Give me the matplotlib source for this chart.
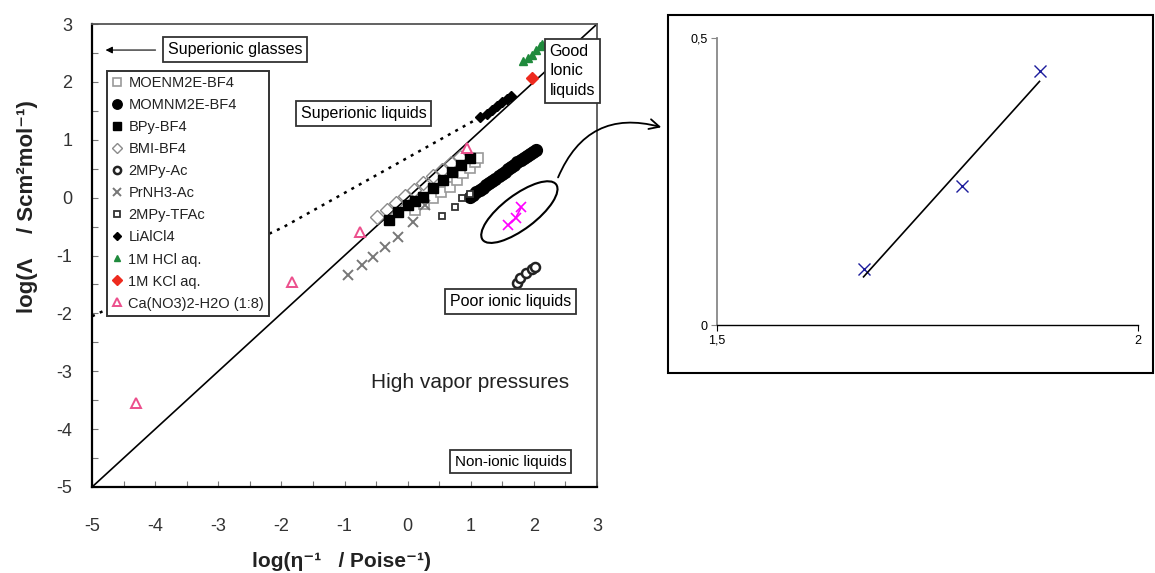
import numpy as np
import matplotlib
matplotlib.use('Agg')
import matplotlib.pyplot as plt
from matplotlib.patches import Ellipse
from matplotlib.transforms import IdentityTransform

plt.rcParams['font.family'] = ['Liberation Sans', 'DejaVu Sans']

# --- main Walden plot data ---
ideal_x = [-5, 3]
ideal_y = [-5, 3]

glass_x = [-5.0, -1.97, 1.15]
glass_y = [-2.05, -0.51, 1.39]

moenm_x = [0.12, 0.26, 0.40, 0.53, 0.67, 0.78, 0.88, 0.98, 1.06, 1.12]
moenm_y = [-0.21, -0.11, 0.00, 0.09, 0.18, 0.31, 0.43, 0.52, 0.61, 0.69]

momnm_x = [0.99, 1.04, 1.09, 1.14, 1.19, 1.24, 1.29, 1.34, 1.39, 1.44, 1.49,
           1.54, 1.59, 1.64, 1.69, 1.74, 1.79, 1.84, 1.89, 1.94, 1.99, 2.04]
momnm_y = [0.01, 0.05, 0.09, 0.13, 0.17, 0.21, 0.25, 0.29, 0.33, 0.37, 0.41,
           0.45, 0.49, 0.53, 0.57, 0.61, 0.65, 0.68, 0.72, 0.75, 0.79, 0.82]

bpy_x = [-0.30, -0.15, 0.00, 0.12, 0.25, 0.40, 0.56, 0.70, 0.85, 0.99]
bpy_y = [-0.38, -0.25, -0.12, -0.05, 0.01, 0.17, 0.31, 0.45, 0.57, 0.69]

bmi_x = [-0.48, -0.33, -0.18, -0.04, 0.10, 0.25, 0.40, 0.55, 0.69, 0.83]
bmi_y = [-0.33, -0.21, -0.09, 0.02, 0.13, 0.25, 0.37, 0.48, 0.59, 0.70]

mpyac_x = [1.74, 1.78, 1.88, 1.97, 2.02]
mpyac_y = [-1.47, -1.39, -1.30, -1.23, -1.20]

prnh3_x = [-0.94, -0.72, -0.55, -0.36, -0.15, 0.09, 0.28]
prnh3_y = [-1.34, -1.16, -1.02, -0.85, -0.68, -0.42, -0.13]

tfac_x = [0.55, 0.75, 0.86, 0.99]
tfac_y = [-0.32, -0.16, 0.00, 0.06]

lial_x = [1.15, 1.25, 1.33, 1.42, 1.50, 1.58, 1.63]
lial_y = [1.39, 1.45, 1.52, 1.58, 1.65, 1.71, 1.75]

hcl_x = [1.83, 1.90, 1.97, 2.03, 2.10, 2.13]
hcl_y = [2.36, 2.42, 2.47, 2.55, 2.62, 2.66]

kcl_x = [1.97]
kcl_y = [2.07]

ca_x = [-4.30, -1.83, -0.75, 0.94]
ca_y = [-3.55, -1.46, -0.59, 0.86]

new_x = [1.59, 1.71, 1.80]
new_y = [-0.48, -0.35, -0.17]

# --- inset data ---
ins_x = [1.674, 1.791, 1.883]
ins_y = [0.098, 0.242, 0.442]

fig = plt.figure(figsize=(11.55, 5.73), dpi=100)
ax = fig.add_axes([0.0797, 0.1501, 0.4372, 0.808])

ax.plot(ideal_x, ideal_y, color='black', lw=1.2, zorder=2)
ax.plot(glass_x, glass_y, color='black', lw=1.8, ls=(0, (1.2, 2.2)), zorder=2)

ax.plot(moenm_x, moenm_y, 's', mfc='white', mec='#9a9a9a', ms=7, mew=1.2, ls='none', label='MOENM2E-BF4', zorder=3)
ax.plot(momnm_x, momnm_y, 'o', color='black', ms=8.5, ls='none', label='MOMNM2E-BF4', zorder=3)
ax.plot(bpy_x, bpy_y, 's', color='black', ms=6.5, ls='none', label='BPy-BF4', zorder=4)
ax.plot(bmi_x, bmi_y, 'D', mfc='none', mec='#8a8a8a', ms=7, mew=1.0, ls='none', label='BMI-BF4', zorder=3)
ax.plot(mpyac_x, mpyac_y, 'o', mfc='white', mec='#222222', ms=6.5, mew=1.8, ls='none', label='2MPy-Ac', zorder=3)
ax.plot(prnh3_x, prnh3_y, 'x', color='#777777', ms=7, mew=1.4, ls='none', label='PrNH3-Ac', zorder=3)
ax.plot(tfac_x, tfac_y, 's', mfc='white', mec='#333333', ms=5, mew=1.3, ls='none', label='2MPy-TFAc', zorder=3)
ax.plot(lial_x, lial_y, 'D', color='black', ms=5, ls='none', label='LiAlCl4', zorder=4)
ax.plot(hcl_x, hcl_y, '^', color='#1f8a3c', ms=5.5, ls='none', label='1M HCl aq.', zorder=4)
ax.plot(kcl_x, kcl_y, 'D', color='#ee2a1e', ms=6.5, ls='none', label='1M KCl aq.', zorder=4)
ax.plot(ca_x, ca_y, '^', mfc='white', mec='#ec4f8c', ms=6.5, mew=1.4, ls='none', label='Ca(NO3)2-H2O (1:8)', zorder=4)
ax.plot(new_x, new_y, color='#ff00ff', lw=1.2, marker='x', ms=7, mew=1.2, zorder=5)

ax.set_xlim(-5, 3)
ax.set_ylim(-5, 3)
ax.set_xticks(range(-5, 4))
ax.set_yticks(range(-5, 4))
ax.set_xticks(np.arange(-5, 3.5, 0.5), minor=True)
ax.set_yticks(np.arange(-5, 3.5, 0.5), minor=True)
ax.tick_params(which='both', direction='in', length=4, color='#777777', width=0.8)
ax.tick_params(which='major', labelsize=13, labelcolor='#333333')
ax.tick_params(axis='y', which='major', pad=14)
ax.tick_params(axis='x', which='major', pad=22)
ax.set_xticklabels([str(v) for v in range(-5, 4)])
ax.set_yticklabels([str(v) for v in range(-5, 4)])
for s in ['left', 'bottom']:
    ax.spines[s].set_color('black')
    ax.spines[s].set_linewidth(1.6)
for s in ['top', 'right']:
    ax.spines[s].set_color('#555555')
    ax.spines[s].set_linewidth(1.3)

ax.set_xlabel('log(\u03b7\u207b\u00b9   / Poise\u207b\u00b9)', fontsize=15, fontweight='bold', color='#222222')
ax.set_ylabel('log(\u039b    / Scm\u00b2mol\u207b\u00b9)', fontsize=16, fontweight='bold', color='#222222')
ax.xaxis.set_label_coords(0.493, -0.14)
ax.yaxis.set_label_coords(-0.108, 0.605)

leg = ax.legend(loc='upper left', bbox_to_anchor=(0.03, 0.898), borderaxespad=0,
                fontsize=10.5, frameon=True, fancybox=False, framealpha=1, handlelength=0.7,
                handletextpad=0.4, labelspacing=0.55, borderpad=0.35, numpoints=1, markerscale=0.8)
leg.get_frame().set_edgecolor('#333333')
leg.get_frame().set_linewidth(1.4)
for t in leg.get_texts():
    t.set_color('#222222')

box = dict(boxstyle='square,pad=0.3', fc='white', ec='#333333', lw=1.3)
ax.text(-2.73, 2.56, 'Superionic glasses', fontsize=11.5, ha='center', va='center', bbox=box, zorder=6)
ax.annotate('', xy=(-4.83, 2.55), xytext=(-3.95, 2.55),
            arrowprops=dict(arrowstyle='-|>', color='black', lw=0.8, mutation_scale=10))
ax.text(-0.70, 1.45, 'Superionic liquids', fontsize=11.5, ha='center', va='center', bbox=box, zorder=6)
ax.text(2.61, 2.19, 'Good\nIonic\nliquids', fontsize=11.5, ha='center', va='center',
        multialignment='left', linespacing=1.4, bbox=box, zorder=6, clip_on=False)
ax.text(1.63, -1.79, 'Poor ionic liquids', fontsize=11.5, ha='center', va='center', bbox=box, zorder=6)
ax.text(0.99, -3.20, 'High vapor pressures', fontsize=15, ha='center', va='center', color='#222222')
ax.text(1.63, -4.56, 'Non-ionic liquids', fontsize=11, ha='center', va='center', bbox=box, zorder=6)

# ellipse around the magenta points and arrow towards the inset
cx, cy = ax.transData.transform((1.77, -0.25))
ell = Ellipse((cx, cy), 92, 34, angle=37, fill=False, ec='black', lw=1.5, transform=IdentityTransform())
fig.add_artist(ell)
fig.add_artist(plt.Rectangle((0.5784, 0.349), 0.4199, 0.6248, transform=fig.transFigure,
                             fill=False, ec='black', lw=1.5))
ax.annotate('', xy=(664, 445), xycoords='figure pixels', xytext=(557, 393), textcoords='figure pixels',
            arrowprops=dict(arrowstyle='->', color='black', lw=1.3, mutation_scale=18,
                            connectionstyle='arc3,rad=-0.45'), annotation_clip=False)

# --- inset axes ---
axi = fig.add_axes([0.6208, 0.4328, 0.3645, 0.5014])
axi.plot(ins_x, ins_y, 'x', color='#1c1c9c', ms=8, mew=1.0, ls='none')
slope, inter = np.polyfit(ins_x, ins_y, 1)
fit_x = np.array([min(ins_x), max(ins_x)])
axi.plot(fit_x, slope * fit_x + inter, color='black', lw=1.2)
axi.set_xlim(1.5, 2)
axi.set_ylim(0, 0.5)
axi.set_xticks([1.5, 2])
axi.set_xticklabels(['1,5', '2'])
axi.set_yticks([0, 0.5])
axi.set_yticklabels(['0', '0,5'])
axi.spines['top'].set_visible(False)
axi.spines['right'].set_visible(False)
axi.spines['left'].set_color('#888888')
axi.spines['left'].set_linewidth(1.3)
axi.spines['bottom'].set_linewidth(1.0)
axi.tick_params(direction='out', length=4, labelsize=9, width=0.8, pad=3)
axi.tick_params(axis='y', color='#888888')
axi.patch.set_alpha(0)

fig.savefig('out.png', dpi=100)
